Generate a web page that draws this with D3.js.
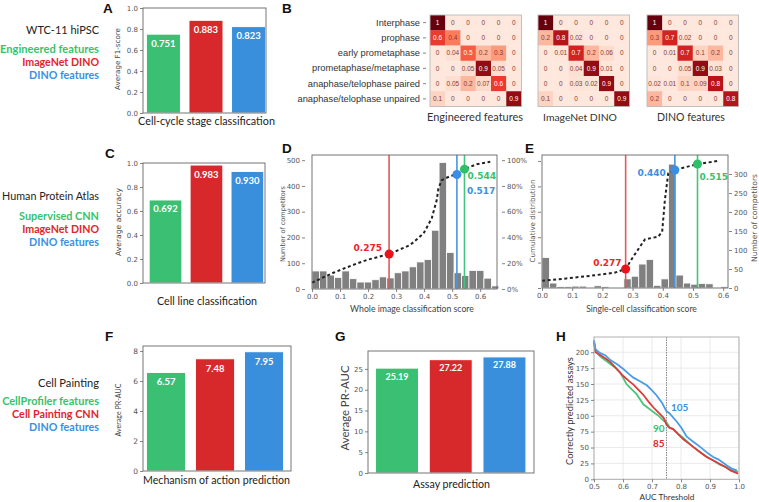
<!DOCTYPE html>
<html><head><meta charset="utf-8">
<script src="https://cdn.jsdelivr.net/npm/d3@7"></script>
<style>body{margin:0;background:#fff}</style>
</head><body><svg id="c" width="759" height="502"></svg>
<script>
// ---------------- DATA ----------------
const methodsWTC = ["Engineered features", "ImageNet DINO", "DINO features"];
const methodsHPA = ["Supervised CNN", "ImageNet DINO", "DINO features"];
const methodsCP = ["CellProfiler features", "Cell Painting CNN", "DINO features"];
const valuesA = [0.751, 0.883, 0.823];
const valuesC = [0.692, 0.983, 0.930];
const valuesF = [6.57, 7.48, 7.95];
const valuesG = [25.19, 27.22, 27.88];
const ticksAC = [0, 0.2, 0.4, 0.6, 0.8, 1.0];
const ticksF = [0, 2, 4, 6, 8];
const ticksG = [0, 5, 10, 15, 20, 25];

const phases = ["Interphase", "prophase", "early prometaphase", "prometaphase/metaphase",
  "anaphase/telophase paired", "anaphase/telophase unpaired"];
const cmTitles = ["Engineered features", "ImageNet DINO", "DINO features"];
const cmEngineered = [
  [1, 0, 0, 0, 0, 0],
  [0.6, 0.4, 0, 0, 0, 0],
  [0, 0.04, 0.5, 0.2, 0.3, 0],
  [0, 0, 0.05, 0.9, 0.05, 0],
  [0, 0.05, 0.2, 0.07, 0.6, 0],
  [0.1, 0, 0, 0, 0, 0.9]];
const cmImageNet = [
  [1, 0, 0, 0, 0, 0],
  [0.2, 0.8, 0.02, 0, 0, 0],
  [0, 0.01, 0.7, 0.2, 0.06, 0],
  [0, 0, 0.04, 0.9, 0.01, 0],
  [0, 0, 0.03, 0.02, 0.9, 0],
  [0.1, 0, 0, 0, 0, 0.9]];
const cmDino = [
  [1, 0, 0, 0, 0, 0],
  [0.3, 0.7, 0.02, 0, 0, 0],
  [0, 0.01, 0.7, 0.1, 0.2, 0],
  [0, 0, 0.05, 0.9, 0.03, 0],
  [0.02, 0.01, 0.1, 0.09, 0.8, 0],
  [0.2, 0, 0, 0, 0, 0.8]];

// Panel D: whole image classification (25 bins)
const histDBinWidth = 0.02667;
const histD = [70, 70, 54, 45, 70, 40, 27, 27, 36, 47, 43, 63, 70, 86, 105, 114, 228, 491, 142, 63, 52, 72, 72, 42, 12];
const cumD = [[0, 0.049], [0.076, 0.126], [0.136, 0.178], [0.195, 0.225], [0.275, 0.271], [0.35, 0.341],
  [0.398, 0.431], [0.427, 0.548], [0.445, 0.69], [0.451, 0.78], [0.463, 0.845], [0.493, 0.876],
  [0.517, 0.889], [0.544, 0.93], [0.588, 0.969], [0.636, 0.987]];
const thrD = [0.275, 0.517, 0.544];
const thrCumD = [0.271, 0.889, 0.93];
const ticksDx = [0, 0.1, 0.2, 0.3, 0.4, 0.5, 0.6];
const ticksDcount = [0, 100, 200, 300, 400, 500];
const ticksCum = [0, 0.2, 0.4, 0.6, 0.8, 1.0];

// Panel E: single-cell classification (25 bins)
const histEBinWidth = 0.02464;
const histE = [80, 13, 4, 4, 5, 5, 0, 6, 4, 0, 0, 24, 31, 63, 75, 7, 24, 326, 34, 13, 10, 12, 11, 0, 4];
const cumE = [[0, 0.057], [0.08, 0.075], [0.16, 0.096], [0.24, 0.12], [0.277, 0.15], [0.302, 0.246],
  [0.341, 0.383], [0.385, 0.404], [0.398, 0.443], [0.407, 0.693], [0.418, 0.903], [0.44, 0.929],
  [0.515, 0.976], [0.583, 1.0]];
const thrE = [0.277, 0.440, 0.515];
const thrCumE = [0.15, 0.929, 0.976];
const ticksEcount = [0, 50, 100, 150, 200, 250, 300];

// Panel H: correctly predicted assays vs AUC threshold
const curveBlue = [[0.5, 219], [0.505, 205], [0.52, 199], [0.54, 195], [0.555, 188], [0.58, 181], [0.6, 174],
  [0.62, 166], [0.636, 160], [0.66, 154], [0.682, 148], [0.7, 140], [0.716, 132], [0.735, 120], [0.75, 107],
  [0.76, 104], [0.785, 91], [0.8, 82], [0.82, 67], [0.84, 60], [0.866, 51], [0.89, 42], [0.911, 35],
  [0.93, 31], [0.957, 22], [0.975, 17], [0.992, 14]];
const curveGreen = [[0.5, 215], [0.505, 202], [0.52, 194], [0.54, 187], [0.555, 182], [0.575, 175], [0.59, 168],
  [0.6, 160], [0.612, 150], [0.625, 144], [0.647, 134], [0.67, 118], [0.69, 111], [0.705, 106], [0.725, 99],
  [0.74, 92], [0.75, 90], [0.76, 82], [0.773, 79], [0.79, 72], [0.808, 65], [0.825, 58], [0.842, 51],
  [0.865, 43], [0.888, 36], [0.91, 30], [0.934, 23], [0.96, 18], [0.98, 14], [0.997, 12]];
const curveRed = [[0.5, 217], [0.505, 200], [0.52, 196], [0.54, 190], [0.555, 185], [0.58, 173], [0.6, 163],
  [0.62, 155], [0.636, 149], [0.655, 140], [0.67, 133], [0.69, 121], [0.705, 113], [0.72, 106], [0.74, 97],
  [0.75, 86], [0.76, 81], [0.773, 79], [0.79, 71], [0.808, 63], [0.825, 57], [0.842, 51], [0.865, 43],
  [0.888, 35], [0.91, 30], [0.934, 24], [0.955, 19], [0.97, 14], [0.997, 9]];
const hLabels = ["105", "90", "85"];
const hThreshold = 0.75;
const ticksHx = [0.5, 0.6, 0.7, 0.8, 0.9, 1.0];
const ticksHy = [0, 25, 50, 75, 100, 125, 150, 175, 200];

// ---------------- STYLE ----------------
const barColors = ["#3bbf73", "#d7292b", "#3a8fdc"];
const textColors = ["#35c46c", "#e0262b", "#3a8fe3"];
const lineColors = ["#e35a5a", "#4a95e0", "#43c47d"];   // red, blue, green (threshold lines)
const dotColors = ["#e8141c", "#3a8ee6", "#2cc068"];
const labColors = ["#e8262b", "#3d90e2", "#34c46f"];
const TICKF = "DejaVu Sans";
const LABF = "Lato, 'Open Sans', sans-serif";

const svg = d3.select("#c");
svg.append("rect").attr("width", 759).attr("height", 502).attr("fill", "#fff");

function txt(x, y, s, o = {}) {
  const t = svg.append("text").attr("x", x).attr("y", y).text(s)
    .attr("font-family", o.family || LABF).attr("font-size", o.size || 11)
    .attr("fill", o.fill || "#222").attr("text-anchor", o.anchor || "start")
    .attr("font-weight", o.weight || "normal");
  if (o.rotate) t.attr("transform", `rotate(-90,${x},${y})`);
  if (o.width) {   // scale font so the text spans the given width
    const L = t.node().getComputedTextLength();
    if (L > 0) t.attr("font-size", (o.size || 11) * o.width / L);
  }
  return t;
}
function styleAxis(ax, size, fam) {
  ax.select(".domain").remove();
  ax.selectAll("text").attr("font-size", size).attr("fill", "#555").attr("font-family", fam || TICKF);
  ax.selectAll("line").attr("stroke", "#666").attr("stroke-width", 0.8);
}
function frame(x0, y0, x1, y1, col) {
  svg.append("rect").attr("x", x0).attr("y", y0).attr("width", x1 - x0).attr("height", y1 - y0)
    .attr("fill", "none").attr("stroke", col || "#666").attr("stroke-width", 0.9);
}

// ---------------- Panel letters ----------------
[["A", 103, 13], ["B", 282, 13], ["C", 105, 157.5], ["D", 282, 152.5], ["E", 525, 152.5],
 ["F", 105, 340.5], ["G", 335, 340.5], ["H", 556, 340.5]].forEach(([l, x, y]) =>
  txt(x, y, l, { family: "Liberation Sans, Arial", size: 13.5, weight: "bold", fill: "#111" }));

// ---------------- Left titles ----------------
function legendBlock(title, titleW, names, widths, y0, step, titleGap) {
  txt(99, y0, title, { anchor: "end", size: 11.5, fill: "#222", width: titleW });
  names.forEach((n, i) => txt(99, y0 + titleGap + i * step, n,
    { anchor: "end", size: 11, weight: "bold", fill: textColors[i], width: widths[i] }));
}
legendBlock("WTC-11 hiPSC", 73, methodsWTC, [99, 77, 70], 34, 13, 19);
legendBlock("Human Protein Atlas", 97, methodsHPA, [80, 77, 70], 200, 13, 20);
legendBlock("Cell Painting", 61, methodsCP, [97, 87, 70], 387, 13, 18);

// ---------------- Bar panels ----------------
function barPanel(c) {
  const x = d3.scaleLinear().domain(c.xDom).range([c.x0, c.x1]);
  const y = d3.scaleLinear().domain([0, c.yMax]).range([c.yBot, c.yTop]);
  const g = svg.append("g");
  g.selectAll("rect").data(c.values).join("rect")
    .attr("x", (d, i) => x(i - 0.4)).attr("width", (d, i) => x(i + 0.4) - x(i - 0.4))
    .attr("y", d => y(d)).attr("height", d => y(0) - y(d))
    .attr("fill", (d, i) => barColors[i]).attr("stroke", "#fff").attr("stroke-width", 1);
  g.selectAll("text.v").data(c.values).join("text").attr("class", "v")
    .attr("x", (d, i) => x(i)).attr("y", d => y(d) + c.valDy).text(d => c.vfmt(d))
    .attr("text-anchor", "middle").attr("fill", "#fff").attr("font-weight", "bold")
    .attr("font-family", LABF).attr("font-size", c.valSize);
  frame(c.x0, c.yTop, c.x1, c.yBot);
  const ax = svg.append("g").attr("transform", `translate(${c.x0},0)`)
    .call(d3.axisLeft(y).tickValues(c.yTicks).tickFormat(c.fmt).tickSize(3).tickPadding(2));
  styleAxis(ax, c.tickSize);
  txt(c.yLabX, c.yLabCy, c.yLabel, { rotate: true, anchor: "middle", size: 7, fill: "#444", family: c.yLabFam || TICKF, width: c.yLabW });
  txt(c.xLabCx, c.xLabY, c.xLabel, { anchor: "middle", size: 11.5, fill: "#222", width: c.xLabW });
}
barPanel({ x0: 143, x1: 266, yTop: 8, yBot: 113, xDom: [-0.48, 2.41], yMax: 1.0, yTicks: ticksAC,
  fmt: d3.format(".1f"), values: valuesA, vfmt: d3.format(".3f"), valDy: 12.5, valSize: 9.5, tickSize: 7,
  yLabel: "Average F1-score", yLabX: 120, yLabCy: 59, yLabW: 62, xLabel: "Cell-cycle stage classification",
  xLabCx: 206.5, xLabY: 125, xLabW: 137 });
barPanel({ x0: 143, x1: 265, yTop: 163, yBot: 283, xDom: [-0.55, 2.43], yMax: 1.0, yTicks: ticksAC,
  fmt: d3.format(".1f"), values: valuesC, vfmt: d3.format(".3f"), valDy: 12.5, valSize: 9.5, tickSize: 7,
  yLabel: "Average accuracy", yLabX: 121, yLabCy: 222, yLabW: 68, xLabel: "Cell line classification",
  xLabCx: 207, xLabY: 305, xLabW: 100 });
barPanel({ x0: 143, x1: 291, yTop: 346, yBot: 471, xDom: [-0.47, 2.55], yMax: 8.33, yTicks: ticksF,
  fmt: d3.format("d"), values: valuesF, vfmt: d3.format(".2f"), valDy: 13, valSize: 9.5, tickSize: 7.5,
  yLabel: "Average PR-AUC", yLabX: 121, yLabCy: 410, yLabW: 53, yLabFam: LABF, xLabel: "Mechanism of action prediction",
  xLabCx: 216.5, xLabY: 484, xLabW: 147 });
barPanel({ x0: 368, x1: 534, yTop: 351, yBot: 473, xDom: [-0.54, 2.55], yMax: 29.3, yTicks: ticksG,
  fmt: d3.format("d"), values: valuesG, vfmt: d3.format(".2f"), valDy: 11.5, valSize: 9, tickSize: 7,
  yLabel: "Average PR-AUC", yLabX: 349, yLabCy: 408, yLabW: 85, yLabFam: LABF, xLabel: "Assay prediction",
  xLabCx: 451.5, xLabY: 488, xLabW: 77 });

// ---------------- Panel B heatmaps ----------------
const cms = [cmEngineered, cmImageNet, cmDino];
const hmX = [430, 538, 647];
const hmTitleCx = [475, 580, 691], hmTitleW = [96, 74, 68];
const hmTop = 15, hmSize = 91.5;
const color = d3.scaleSequential(d3.interpolateReds).domain([-0.08, 1]);
cms.forEach((m, k) => {
  const bx = d3.scaleBand().domain(d3.range(6)).range([hmX[k], hmX[k] + hmSize]);
  const by = d3.scaleBand().domain(d3.range(6)).range([hmTop, hmTop + hmSize]);
  const cells = m.flatMap((row, r) => row.map((v, c) => ({ r, c, v })));
  const g = svg.append("g");
  g.selectAll("rect").data(cells).join("rect")
    .attr("x", d => bx(d.c)).attr("y", d => by(d.r)).attr("width", bx.bandwidth() + 0.3).attr("height", by.bandwidth() + 0.3)
    .attr("fill", d => color(d.v));
  g.selectAll("text").data(cells).join("text")
    .attr("x", d => bx(d.c) + bx.bandwidth() / 2).attr("y", d => by(d.r) + by.bandwidth() / 2 + 2.2)
    .attr("text-anchor", "middle").attr("font-family", "Liberation Sans, Arial").attr("font-size", 6.5)
    .attr("fill", d => d.v >= 0.5 ? "#fff" : "#8a3a30").text(d => d.v);
  frame(hmX[k], hmTop, hmX[k] + hmSize, hmTop + hmSize, "#bbb");
  txt(hmTitleCx[k], 121, cmTitles[k], { anchor: "middle", size: 11, fill: "#333", width: hmTitleW[k] });
  if (k === 0) {
    const ay = svg.append("g").attr("transform", `translate(${hmX[0] - 4},0)`)
      .call(d3.axisLeft(by).tickFormat(i => phases[i]).tickSize(3).tickPadding(3));
    styleAxis(ay, 9.3, "Liberation Sans, Arial");
    ay.selectAll("text").attr("fill", "#333");
  }
});

// ---------------- Histogram panels D & E ----------------
function histPanel(c) {
  const x = d3.scaleLinear().domain([0, c.xMax]).range([c.x0, c.x1]);
  const yc = d3.scaleLinear().domain([0, c.countMax]).range([c.yBot, c.yTop]);
  const yp = d3.scaleLinear().domain([0, c.cumMax]).range([c.yBot, c.yTop]);
  const g = svg.append("g");
  g.selectAll("rect").data(c.counts).join("rect")
    .attr("x", (d, i) => x(i * c.binW)).attr("width", (d, i) => x((i + 1) * c.binW) - x(i * c.binW))
    .attr("y", d => yc(d)).attr("height", d => yc(0) - yc(d))
    .attr("fill", "#808080").attr("stroke", "#fff").attr("stroke-width", 0.8);
  c.thr.forEach((t, i) => g.append("line").attr("x1", x(t)).attr("x2", x(t)).attr("y1", c.yTop).attr("y2", c.yBot)
    .attr("stroke", lineColors[i]).attr("stroke-width", 1.6));
  g.append("path").datum(c.cum).attr("d", d3.line().x(d => x(d[0])).y(d => yp(d[1])))
    .attr("fill", "none").attr("stroke", "#222").attr("stroke-width", 2).attr("stroke-dasharray", "3,2.6");
  c.thr.forEach((t, i) => g.append("circle").attr("cx", x(t)).attr("cy", yp(c.thrCum[i])).attr("r", 4.5).attr("fill", dotColors[i]));
  c.labels.forEach((L, i) => {
    const t = c.thr[i];
    txt(x(t) + L.dx, yp(c.thrCum[i]) + L.dy, d3.format(".3f")(t),
      { anchor: L.anchor, size: 9, weight: "bold", fill: labColors[i], family: TICKF });
  });
  frame(c.x0, c.yTop, c.x1, c.yBot);
  const axb = svg.append("g").attr("transform", `translate(0,${c.yBot})`)
    .call(d3.axisBottom(x).tickValues(ticksDx).tickFormat(d3.format(".1f")).tickSize(3).tickPadding(2));
  styleAxis(axb, 7);
  const countAxis = c.countSide === "left" ? d3.axisLeft(yc) : d3.axisRight(yc);
  const axc = svg.append("g").attr("transform", `translate(${c.countX},0)`)
    .call(countAxis.tickValues(c.countTicks).tickSize(3).tickPadding(2));
  styleAxis(axc, 7);
  const cumAxis = c.countSide === "left" ? d3.axisRight(yp) : d3.axisLeft(yp);
  const axp = svg.append("g").attr("transform", `translate(${c.cumX},0)`)
    .call(cumAxis.tickValues(ticksCum).tickFormat(c.cumLabels ? d3.format(".0%") : "").tickSize(3).tickPadding(2));
  styleAxis(axp, 7);
  txt(c.xLabCx, 312, c.xLabel, { anchor: "middle", size: 8.5, fill: "#444", width: c.xLabW });
}
histPanel({ x0: 312, x1: 497, yTop: 155, yBot: 289, xMax: 0.66, countMax: 520, cumMax: 1.04,
  counts: histD, binW: histDBinWidth, cum: cumD, thr: thrD, thrCum: thrCumD,
  labels: [{ dx: -7, dy: -3, anchor: "end" }, { dx: 10, dy: 20, anchor: "start" }, { dx: 3, dy: 10, anchor: "start" }],
  countSide: "left", countX: 305, countTicks: ticksDcount, cumX: 502, cumLabels: true,
  xLabel: "Whole image classification score", xLabCx: 412, xLabW: 124 });
histPanel({ x0: 542, x1: 728, yTop: 155, yBot: 288, xMax: 0.616, countMax: 350, cumMax: 1.047,
  counts: histE, binW: histEBinWidth, cum: cumE, thr: thrE, thrCum: thrCumE,
  labels: [{ dx: -4, dy: -3, anchor: "end" }, { dx: -9, dy: 6.5, anchor: "end" }, { dx: 2, dy: 15.5, anchor: "start" }],
  countSide: "right", countX: 729, countTicks: ticksEcount, cumX: 541, cumLabels: false,
  xLabel: "Single-cell classification score", xLabCx: 641.5, xLabW: 111 });
txt(284.5, 224, "Number of competitors", { rotate: true, anchor: "middle", size: 7, fill: "#555", family: TICKF, width: 76 });
txt(534.5, 221, "Cumulative distribution", { rotate: true, anchor: "middle", size: 7, fill: "#555", family: TICKF, width: 83 });
txt(757, 218, "Number of competitors", { rotate: true, anchor: "middle", size: 7, fill: "#555", family: TICKF, width: 88 });

// ---------------- Panel H ----------------
(function () {
  const x = d3.scaleLinear().domain([0.5, 1.0]).range([594, 739]);
  const y = d3.scaleLinear().domain([0, 224]).range([479.3, 337]);
  const g = svg.append("g");
  ticksHx.forEach(t => g.append("line").attr("x1", x(t)).attr("x2", x(t)).attr("y1", 337).attr("y2", 479.3).attr("stroke", "#e4e4e4").attr("stroke-width", 0.8));
  ticksHy.forEach(t => g.append("line").attr("x1", 594).attr("x2", 739).attr("y1", y(t)).attr("y2", y(t)).attr("stroke", "#e4e4e4").attr("stroke-width", 0.8));
  g.append("line").attr("x1", x(hThreshold)).attr("x2", x(hThreshold)).attr("y1", 337).attr("y2", 479.3)
    .attr("stroke", "#888").attr("stroke-width", 1).attr("stroke-dasharray", "1.5,1");
  const line = d3.line().x(d => x(d[0])).y(d => y(d[1]));
  [[curveGreen, "#4cc47a"], [curveRed, "#e0393c"], [curveBlue, "#4a9be8"]].forEach(([cv, col]) =>
    g.append("path").datum(cv).attr("d", line).attr("fill", "none").attr("stroke", col).attr("stroke-width", 1.8));
  frame(594, 337, 739, 479.3, "#aaa");
  const ax = svg.append("g").attr("transform", "translate(594,0)")
    .call(d3.axisLeft(y).tickValues(ticksHy).tickSize(3).tickPadding(2));
  styleAxis(ax, 7);
  const axb = svg.append("g").attr("transform", "translate(0,479.3)")
    .call(d3.axisBottom(x).tickValues(ticksHx).tickFormat(d3.format(".1f")).tickSize(3).tickPadding(2));
  styleAxis(axb, 7);
  txt(671, 411, hLabels[0], { size: 10, weight: "bold", fill: "#3d90e2" });
  txt(653, 432, hLabels[1], { size: 10, weight: "bold", fill: "#34c46f" });
  txt(653, 447, hLabels[2], { size: 10, weight: "bold", fill: "#e0282c" });
  txt(667, 500, "AUC Threshold", { anchor: "middle", size: 9.5, fill: "#333", width: 55 });
  txt(573, 411, "Correctly predicted assays", { rotate: true, anchor: "middle", size: 9, fill: "#333", width: 108 });
})();
</script></body></html>
